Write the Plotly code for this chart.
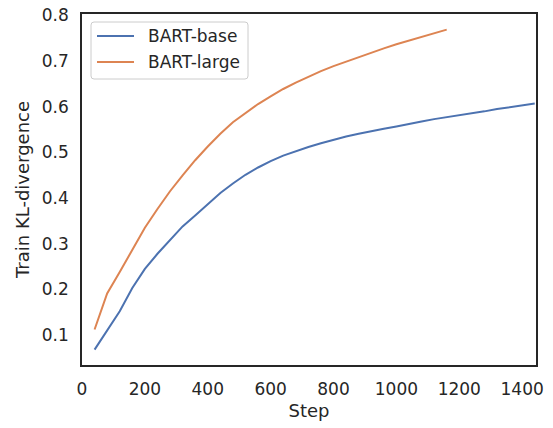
import plotly.graph_objects as go

# Training KL-divergence curves, logged every 40 steps
steps_base = [40, 80, 120, 160, 200, 240, 280, 320, 360, 400, 440, 480, 520, 560,
              600, 640, 680, 720, 760, 800, 840, 880, 920, 960, 1000, 1040, 1080,
              1120, 1160, 1200, 1240, 1280, 1320, 1360, 1400, 1440]
kl_base = [0.068, 0.110, 0.152, 0.203, 0.245, 0.278, 0.308, 0.338, 0.362, 0.386,
           0.411, 0.432, 0.451, 0.467, 0.481, 0.493, 0.503, 0.512, 0.520, 0.528,
           0.535, 0.541, 0.547, 0.552, 0.557, 0.563, 0.568, 0.573, 0.577, 0.581,
           0.586, 0.590, 0.595, 0.599, 0.603, 0.607]

steps_large = [40, 80, 120, 160, 200, 240, 280, 320, 360, 400, 440, 480, 520, 560,
               600, 640, 680, 720, 760, 800, 840, 880, 920, 960, 1000, 1040, 1080,
               1120, 1160]
kl_large = [0.112, 0.191, 0.238, 0.287, 0.335, 0.376, 0.415, 0.450, 0.483, 0.513,
            0.541, 0.566, 0.587, 0.606, 0.623, 0.639, 0.653, 0.666, 0.678, 0.689,
            0.699, 0.709, 0.719, 0.728, 0.737, 0.745, 0.754, 0.762, 0.769]

x_ticks = [0, 200, 400, 600, 800, 1000, 1200, 1400]
y_ticks = [0.1, 0.2, 0.3, 0.4, 0.5, 0.6, 0.7, 0.8]

series_names = ["BART-base", "BART-large"]

BLUE = "#4c72b0"
ORANGE = "#dd8452"
TEXT = "#262626"
FONT = "DejaVu Sans"

W, H = 553, 428
M_L, M_R, M_T, M_B = 82, 17, 14, 63
PW, PH = W - M_L - M_R, H - M_T - M_B


def px_x(p):
    """Pixel column -> paper x."""
    return (p - M_L) / PW


def px_y(p):
    """Pixel row (from top) -> paper y."""
    return (H - M_B - p) / PH


fig = go.Figure()
fig.add_trace(go.Scatter(x=steps_base, y=kl_base, mode="lines", name=series_names[0],
                         line=dict(color=BLUE, width=2), showlegend=False))
fig.add_trace(go.Scatter(x=steps_large, y=kl_large, mode="lines", name=series_names[1],
                         line=dict(color=ORANGE, width=2), showlegend=False))

axis_common = dict(
    showgrid=False, zeroline=False, showline=True, mirror=True,
    linecolor=TEXT, linewidth=1.5, ticks="", automargin=False,
    tickfont=dict(family=FONT, size=17, color=TEXT),
)

fig.update_xaxes(range=[0, 1444], tickvals=x_ticks,
                 ticktext=[str(v) for v in x_ticks],
                 title=dict(text="Step", font=dict(family=FONT, size=18, color=TEXT),
                            standoff=6),
                 ticklabelstandoff=8, **axis_common)
fig.update_yaxes(range=[0.0343, 0.8033], tickvals=y_ticks,
                 ticktext=[f"{v:.1f}" for v in y_ticks],
                 title=dict(text="Train KL-divergence",
                            font=dict(family=FONT, size=18, color=TEXT), standoff=8),
                 ticklabelstandoff=8, **axis_common)

# Legend box (rounded, light frame) drawn in paper coordinates
x0, x1 = px_x(91), px_x(248)
y0, y1 = px_y(79), px_y(22)
rx, ry = 3 / PW, 3 / PH
box_path = (f"M {x0+rx},{y0} L {x1-rx},{y0} Q {x1},{y0} {x1},{y0+ry} "
            f"L {x1},{y1-ry} Q {x1},{y1} {x1-rx},{y1} L {x0+rx},{y1} "
            f"Q {x0},{y1} {x0},{y1-ry} L {x0},{y0+ry} Q {x0},{y0} {x0+rx},{y0} Z")
shapes = [dict(type="path", xref="paper", yref="paper", path=box_path,
               fillcolor="rgba(255,255,255,0.8)", line=dict(color="#cccccc", width=1))]
annotations = []
for name, color, row in zip(series_names, [BLUE, ORANGE], [36, 62]):
    shapes.append(dict(type="line", xref="paper", yref="paper",
                       x0=px_x(97), x1=px_x(134), y0=px_y(row), y1=px_y(row),
                       line=dict(color=color, width=2)))
    annotations.append(dict(xref="paper", yref="paper", x=px_x(146), y=px_y(row),
                            xanchor="left", yanchor="middle", showarrow=False,
                            text=name, font=dict(family=FONT, size=17, color=TEXT)))

fig.update_layout(
    width=W, height=H,
    margin=dict(l=M_L, r=M_R, t=M_T, b=M_B, autoexpand=False),
    plot_bgcolor="white", paper_bgcolor="white",
    font=dict(family=FONT, size=17, color=TEXT),
    shapes=shapes, annotations=annotations,
    showlegend=False,
)

fig.write_html("out.html")
